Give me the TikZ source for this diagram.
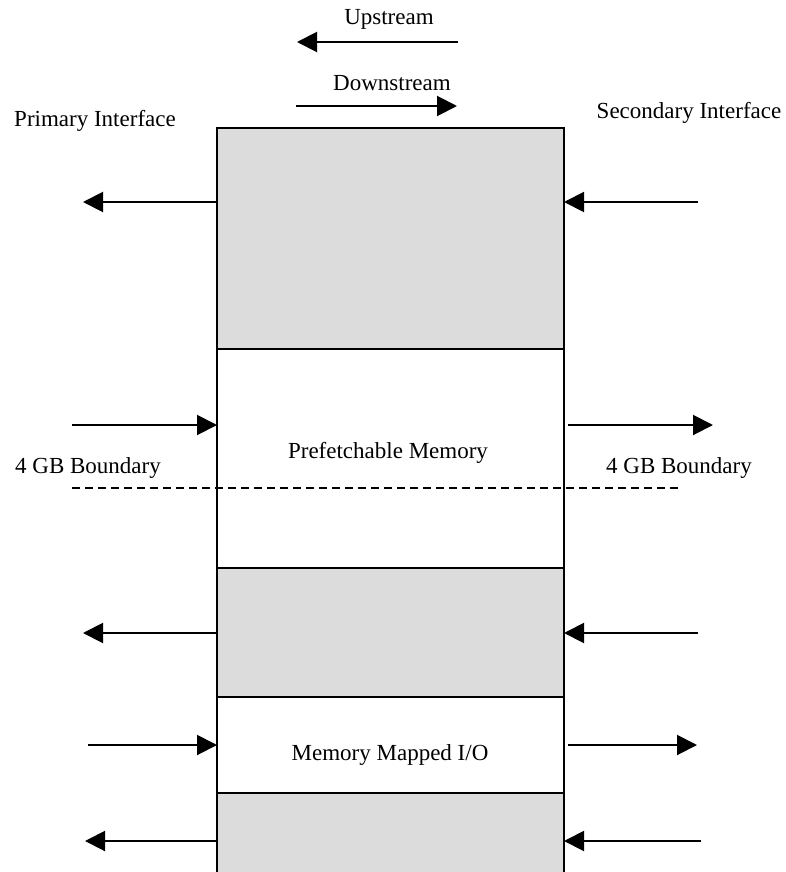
\documentclass[tikz,border=0pt]{standalone}
\usepackage{fontspec}
\setmainfont{Liberation Serif}
\usepackage{tikz}
\usetikzlibrary{arrows.meta,shapes}
\tikzstyle{block}=[rectangle, draw, line width=2pt
,anchor=north west
,minimum width=347pt
,inner sep=0pt, outer sep=0pt
]
\tikzstyle{txt}=[font=\fontsize{23}{27}\selectfont, inner sep=0pt, anchor=base]
\tikzstyle{edge} = [draw,line width=2pt,-{Triangle[length=20pt,width=20pt]}]
\definecolor{shade}{RGB}{220,220,220}

\begin{document}
\begin{tikzpicture}[x=1pt,y=-1pt]
    \clip (0,0) rectangle (786,872);
    % Draw the memory column
    % First the blocks, top to bottom
    \foreach \top/\hgt/\name/\col in {128/221/blkA/shade, 349/219/blkB/white,
        568/129/blkC/shade, 697/96/blkD/white, 793/90/blkE/shade}
        \node[block, fill=\col, minimum height=\hgt pt] (\name) at (217,\top) {};
    % Boundary line
    \coordinate (bl) at (72,488);
    \coordinate (br) at (682,488);
    \draw[line width=1.5pt, dash pattern=on 8pt off 5pt] (bl) -- (br);
    % Texts
    \node[txt] (up) at (389,25) {Upstream};
    \node[txt] (down) at (392,91) {Downstream};
    \node[txt] (prim) at (95,127) {Primary Interface};
    \node[txt] (sec) at (689,118) {Secondary Interface};
    \node[txt] (pref) at (388,458) {Prefetchable Memory};
    \node[txt] (gbl) at (88,473) {4 GB Boundary};
    \node[txt] (gbr) at (679,473) {4 GB Boundary};
    \node[txt] (mmio) at (390,760) {Memory Mapped I/O};
    % Free ends of the arrows
    \foreach \x/\y/\name in {458/42/upT, 297/42/upH, 296/106/dnT, 457/106/dnH,
        83/202/aL, 698/202/aR, 72/425/bL, 568/425/bR0, 713/425/bR,
        83/633/cL, 698/633/cR, 88/745/dL, 568/745/dR0, 697/745/dR,
        85/841/eL, 701/841/eR}
        \coordinate (\name) at (\x,\y);
    % Direction arrows
    \path[edge] (upT) -- (upH);
    \path[edge] (dnT) -- (dnH);
    % Connect blocks with the interfaces
    \foreach \blk/\lft/\rgt in {blkA/aL/aR, blkC/cL/cR, blkE/eL/eR} {
        \path[edge] (\blk.west |- \lft) -- (\lft);
        \path[edge] (\rgt) -- (\blk.east |- \rgt);
    }
    \path[edge] (bL) -- (blkB.west |- bL);
    \path[edge] (bR0) -- (bR);
    \path[edge] (dL) -- (blkD.west |- dL);
    \path[edge] (dR0) -- (dR);
\end{tikzpicture}
\end{document}
